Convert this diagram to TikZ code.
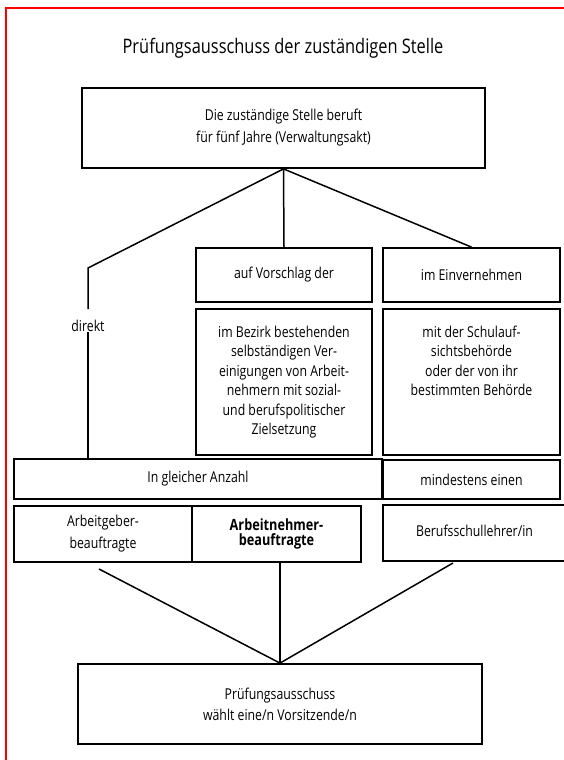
\documentclass[tikz,border=0pt]{standalone}
\usepackage{fontspec}
\setmainfont{Open Sans}[FakeStretch=0.82]
\usetikzlibrary{positioning}
\tikzset{
    kasten/.style={draw, line width=1.8pt, align=center, inner sep=0pt,
        font=\fontsize{15}{19.5}\selectfont},
    schrift/.style={align=center, inner sep=0pt, font=\fontsize{15}{19.5}\selectfont},
    linie/.style={line width=1.5pt},
    rahmen/.style={red, line width=1.8pt},
}

\begin{document}
\begin{tikzpicture}[x=1pt,y=-1pt]

    \useasboundingbox (0,0) rectangle (564,760);

    % Draw red frame.
    \draw[rahmen] (6,775) -- (6,7.7) -- (575,7.7);

    % Draw title.
    \node (titel) at (283,48) [inner sep=0pt,font=\fontsize{20}{24}\selectfont]
        {Prüfungsausschuss der zuständigen Stelle};

    % Draw upper boxes.
    \node (stelle) at (283.5,128) [kasten,minimum width=403,minimum height=80,
        font=\fontsize{15}{22}\selectfont]
        {\raisebox{3pt}{\shortstack{Die zuständige Stelle beruft\\[4pt]für fünf Jahre (Verwaltungsakt)}}};
    \node (vorschlag) at (284,275) [kasten,minimum width=176,minimum height=54]
        {auf Vorschlag der};
    \node (einvern) at (471.5,275) [kasten,minimum width=177,minimum height=54]
        {im Einvernehmen};
    \node (bezirk) at (284,382) [kasten,minimum width=176,minimum height=146]
        {im Bezirk bestehenden\\selbständigen Ver-\\einigungen von Arbeit-\\nehmern mit sozial-\\und berufspolitischer\\Zielsetzung};
    \node (schul) at (471.5,382) [kasten,minimum width=177,minimum height=146] {};
    \node (schultext) at (471.5,361) [schrift]
        {mit der Schulauf-\\sichtsbehörde\\oder der von ihr\\bestimmten Behörde};

    % Draw middle row.
    \node (gleich) at (198,479) [kasten,minimum width=368,minimum height=40]
        {\raisebox{-4pt}{In gleicher Anzahl}};
    \node (mindest) at (471.5,479.5) [kasten,minimum width=177,minimum height=39]
        {\raisebox{-4pt}{mindestens einen}};

    % Draw members.
    \node (geber) at (103,534) [kasten,minimum width=178,minimum height=56,
        font=\fontsize{15}{22}\selectfont]
        {Arbeitgeber-\\beauftragte};
    \node (nehmer) at (276.5,534) [kasten,minimum width=169,minimum height=56,
        font=\fontsize{15.5}{20}\selectfont\bfseries]
        {\raisebox{4pt}{\shortstack{Arbeitnehmer-\\beauftragte}}};
    \node (lehrer) at (474.5,533) [kasten,minimum width=183,minimum height=56]
        {\raisebox{4pt}{Berufsschullehrer/in}};

    % Draw lower box.
    \node (pruef) at (280,704) [kasten,minimum width=404,minimum height=80,
        font=\fontsize{15}{21}\selectfont]
        {\raisebox{-3pt}{\shortstack{Prüfungsausschuss\\[3pt]wählt eine/n Vorsitzende/n}}};

    % Draw upper connectors.
    \coordinate (knick) at (88,268);
    \coordinate (dO) at (88,309);
    \coordinate (dU) at (88,332);
    \node (direkt) at (88,326) [inner sep=0pt,font=\fontsize{15}{17}\selectfont] {direkt};
    \draw[linie] (stelle.south) -- (knick) -- (dO);
    \draw[linie] (dU) -- (dU |- gleich.north);
    \draw[linie] (stelle.south) -- (vorschlag.north);
    \draw[linie] (stelle.south) -- (einvern.north);

    % Draw lower connectors.
    \coordinate (ga) at (99,569);
    \coordinate (la) at (453,563);
    \draw[linie] (ga) -- (pruef.north);
    \draw[linie] (nehmer.south -| pruef.north) -- (pruef.north);
    \draw[linie] (la) -- (pruef.north);

\end{tikzpicture}
\end{document}
